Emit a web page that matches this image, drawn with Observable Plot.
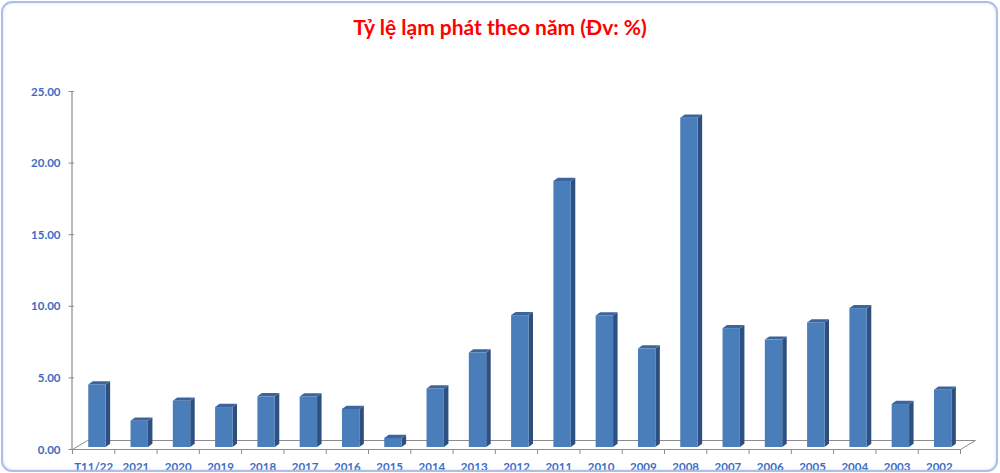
<!DOCTYPE html>
<html>
<head>
<meta charset="utf-8">
<script src="https://cdn.jsdelivr.net/npm/d3@7"></script>
<script src="https://cdn.jsdelivr.net/npm/@observablehq/plot@0.6"></script>
<style>
  html, body { margin: 0; padding: 0; background: #fff; }
  #wrap { position: relative; width: 1000px; height: 473px; overflow: hidden; font-family: Lato, "Open Sans", sans-serif; }
  #frame { position: absolute; left: 1px; top: 1px; width: 997px; height: 471px; box-sizing: border-box;
           border: 2px solid #aac0e8; border-radius: 11px; box-shadow: inset 0 0 3px rgba(170,192,232,0.6); pointer-events: none; }
  #title { height: 50px; box-sizing: border-box; padding-top: 4px; line-height: 46px; text-align: center;
           color: #ff0000; font-weight: 700; font-size: 21px; font-family: Lato, sans-serif; }
  #chart svg { display: block; }
</style>
</head>
<body>
<div id="wrap">
  <div id="title">Tỷ lệ lạm phát theo năm (Đv: %)</div>
  <div id="chart"></div>
  <div id="frame"></div>
</div>
<script>
const categories = ["T11/22","2021","2020","2019","2018","2017","2016","2015","2014","2013","2012","2011","2010","2009","2008","2007","2006","2005","2004","2003","2002"];
const inflation  = [4.37, 1.84, 3.23, 2.79, 3.54, 3.53, 2.66, 0.63, 4.09, 6.6, 9.21, 18.58, 9.19, 6.88, 23.0, 8.3, 7.5, 8.7, 9.7, 3.0, 4.0];
const yTicks = [0, 5, 10, 15, 20, 25];

// layout
const W = 1000, H = 423;
const mL = 72, mR = 40, mT = 41, mB = 24;
const n = categories.length;
const pxX = (W - mL - mR) / n;              // px per category
const pxY = (H - mT - mB) / 25;             // px per unit
const ux = px => px / pxX, uy = px => px / pxY;

const HW = ux(8.7);          // half width of front face
const SDX = ux(4.5), SDY = uy(3.2);   // bar depth
const FDX = ux(15), FDY = uy(9);      // floor depth

const bars = categories.map((c, i) => ({i, c, v: inflation[i]}));

const sideFace = bars.flatMap(d => [
  {k: d.i, x: d.i + HW, y1: 0, y2: d.v},
  {k: d.i, x: d.i + HW + SDX, y1: SDY, y2: d.v + SDY}
]);
const topFace = bars.flatMap(d => [
  {k: d.i, x: d.i - HW, y1: d.v, y2: d.v},
  {k: d.i, x: d.i - HW + SDX, y1: d.v, y2: d.v + SDY},
  {k: d.i, x: d.i + HW, y1: d.v, y2: d.v + SDY},
  {k: d.i, x: d.i + HW + SDX, y1: d.v + SDY, y2: d.v + SDY}
]);

const xLo = -0.5, xHi = n - 0.5;
const floorPts = [
  {x: xLo, y: 0}, {x: xHi, y: 0}, {x: xHi + FDX, y: FDY}, {x: xLo + FDX, y: FDY}, {x: xLo, y: 0}
];
const bounds = d3.range(n + 1).map(i => i - 0.5);

const gray = "#8c8c8c";
const blueText = "#3b6cc4";
const BDX = 3.8, BDY = -2;

const plot = Plot.plot({
  width: W, height: H,
  marginLeft: mL, marginRight: mR, marginTop: mT, marginBottom: mB,
  x: {type: "linear", domain: [xLo, xHi], axis: null},
  y: {type: "linear", domain: [0, 25], axis: null},
  style: {fontFamily: "Lato, sans-serif", overflow: "visible", background: "transparent"},
  marks: [
    Plot.line(floorPts, {x: "x", y: "y", stroke: gray, strokeWidth: 1}),
    Plot.ruleX(bounds, {x: d => d, y1: 0, y2: -uy(5), stroke: gray, strokeWidth: 1}),
    Plot.ruleX([xLo], {y1: 0, y2: 25, stroke: gray, strokeWidth: 1.2, dx: -0.5}),
    Plot.ruleY(yTicks, {y: d => d, x1: xLo - ux(3.5), x2: xLo + ux(2), stroke: gray, strokeWidth: 1}),
    Plot.area(sideFace, {x1: "x", y1: "y1", y2: "y2", z: "k", fill: "#2d5080", curve: "linear", dx: BDX, dy: BDY}),
    Plot.area(topFace, {x1: "x", y1: "y1", y2: "y2", z: "k", fill: "#3c659e", curve: "linear", dx: BDX, dy: BDY}),
    Plot.rect(bars, {x1: d => d.i - HW, x2: d => d.i + HW, y1: 0, y2: "v", fill: "#4a7ebb", dx: BDX, dy: BDY}),
    Plot.text(yTicks, {x: xLo, y: d => d, text: d => d3.format(".2f")(d), textAnchor: "end", dx: -12, dy: 0.5,
                       fill: blueText, fontSize: 11.5, fontWeight: 700}),
    Plot.text(bars, {x: "i", y: 0, text: "c", dy: 18, fill: blueText, fontSize: 11.5, fontWeight: 700})
  ]
});
document.getElementById("chart").appendChild(plot);
</script>
</body>
</html>
